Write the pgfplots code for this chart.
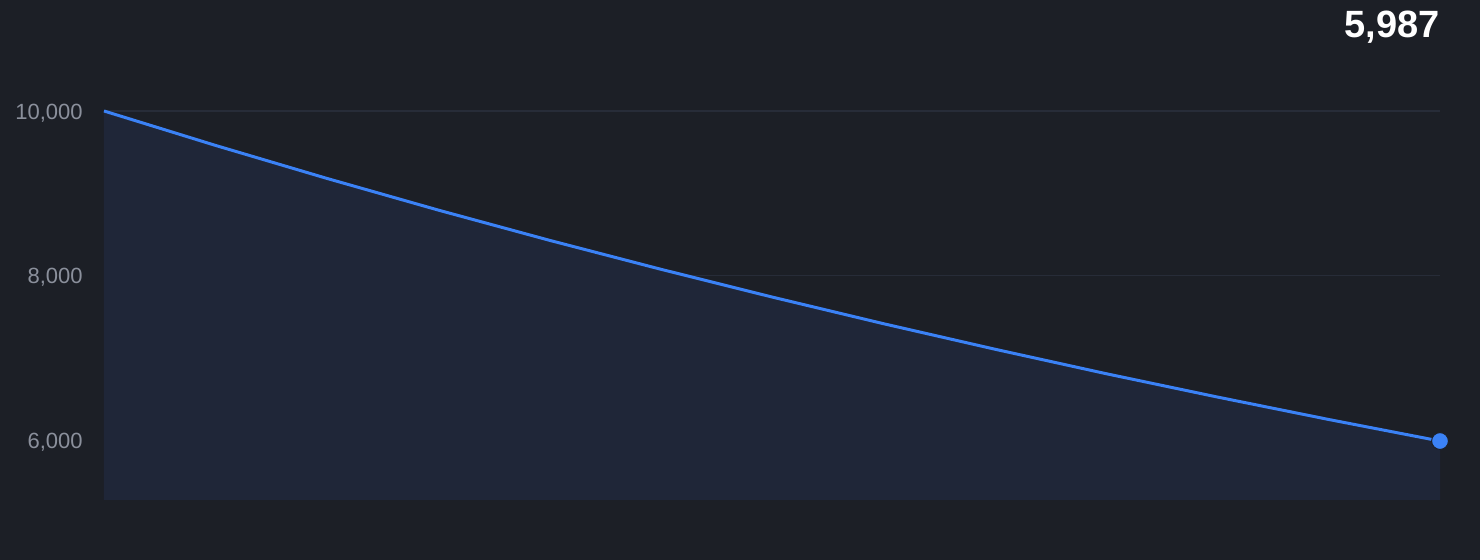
\documentclass[border=0pt]{standalone}
\usepackage{pgfplots}
\pgfplotsset{compat=1.18}
\usepackage{fontspec}
\setmainfont{Liberation Sans}

\definecolor{bg}{HTML}{1C1F26}
\definecolor{areafill}{HTML}{1F2638}
\definecolor{lineblue}{HTML}{3B82F6}
\definecolor{gridc}{HTML}{272C38}
\definecolor{ticktext}{HTML}{8B909C}

% balance values, one per step
\pgfplotstableread{
step value
0  10000
1  9582
2  9181
3  8796
4  8428
5  8076
6  7738
7  7414
8  7104
9  6806
10 6522
11 6249
12 5987
}\balance

\begin{document}
\begin{tikzpicture}
  % 1 px of the reference = 0.5pt
  \fill[bg] (0,0) rectangle (740pt,280pt);
  \begin{axis}[
    at={(52pt,30pt)},
    anchor=south west,
    scale only axis,
    width=668pt,
    height=194.5pt,
    xmin=0, xmax=12,
    ymin=5270, ymax=10000,
    clip=false,
    axis line style={draw=none},
    xtick=\empty,
    ytick={6000,8000,10000},
    scaled y ticks=false,
    major tick length=0pt,
    ymajorgrids=true,
    grid style={gridc, line width=0.6pt},
    yticklabel={\pgfmathprintnumber[fixed, precision=0, 1000 sep={,}, assume math mode=true]{\tick}},
    yticklabel style={font=\fontsize{11}{13}\selectfont, text=ticktext, anchor=east, inner sep=0pt, xshift=-10.5pt, yshift=-1pt},
  ]
    \addplot[fill=areafill, draw=none] table[x=step, y=value] {\balance} \closedcycle;
    \addplot[lineblue, line width=1.5pt] table[x=step, y=value] {\balance};
    \addplot[only marks, mark=*, mark size=4.2pt, mark options={fill=lineblue, draw=bg, line width=0.5pt}] coordinates {(12,5987)};
  \end{axis}
  \node[anchor=base east, inner sep=0pt, text=white, font=\fontsize{19}{22}\selectfont\bfseries] at (720pt,261pt) {5,987};
\end{tikzpicture}
\end{document}
